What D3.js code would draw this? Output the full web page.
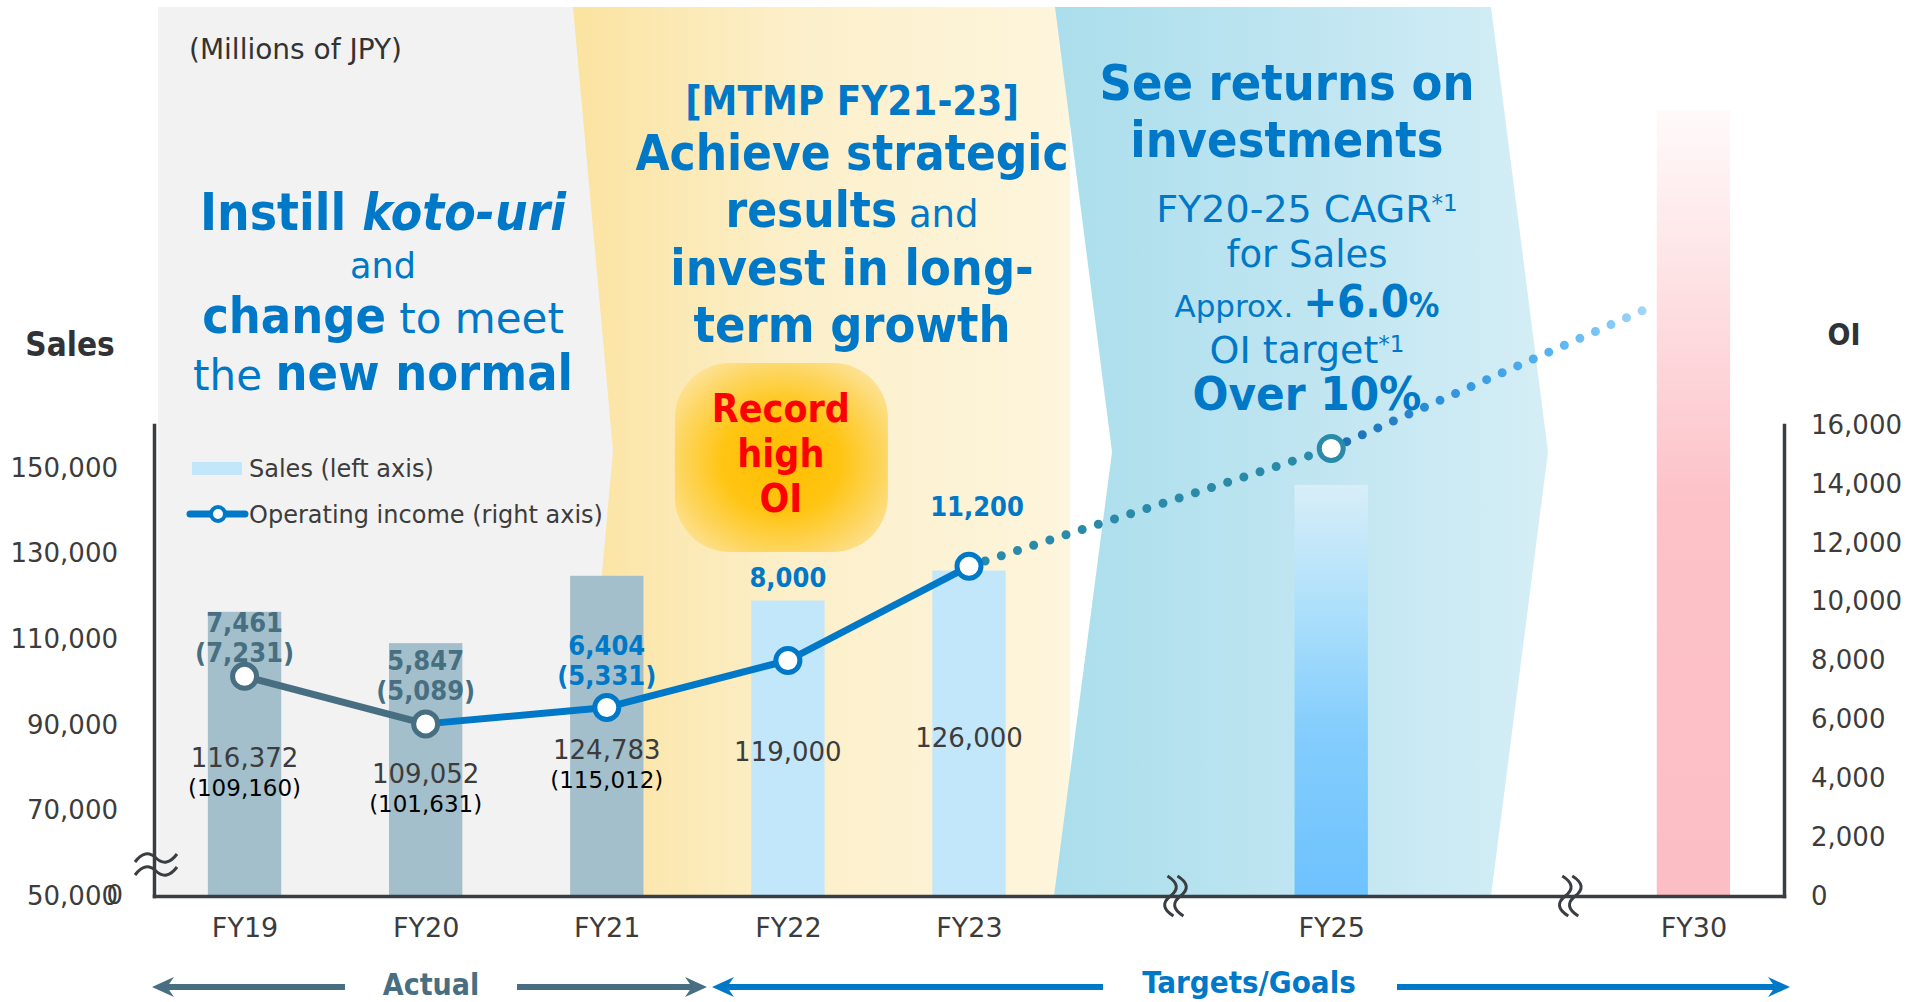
<!DOCTYPE html>
<html>
<head>
<meta charset="utf-8">
<script src="https://cdn.jsdelivr.net/npm/d3@7"></script>
<style>
  body { margin: 0; background: #fff; }
  svg { display: block; font-family: "DejaVu Sans", sans-serif; }
  .b { font-family: "DejaVu Sans Condensed", "DejaVu Sans", sans-serif; font-weight: bold; font-stretch: condensed; }
</style>
</head>
<body>
<div id="chart"></div>
<script>
// ---- data (millions of JPY) ----
const slots = ["FY19", "FY20", "FY21", "FY22", "FY23", "gap1", "FY25", "gap2", "FY30"];
const years = ["FY19", "FY20", "FY21", "FY22", "FY23", "FY25", "FY30"];
const sales = [116372, 109052, 124783, 119000, 126000, 146000, 233500];
const salesBefore = [109160, 101631, 115012, null, null, null, null];
const oiYears = ["FY19", "FY20", "FY21", "FY22", "FY23", "FY25"];
const oi = [7461, 5847, 6404, 8000, 11200, 15200];
const oiBefore = [7231, 5089, 5331, null, null, null];
const oiTrendEnd = 20100; // dotted goal line runs out at the FY30 bar
const leftTicks = [50000, 70000, 90000, 110000, 130000, 150000];
const rightTicks = [0, 2000, 4000, 6000, 8000, 10000, 12000, 14000, 16000];

const BLUE = "#0078c8", SLATE = "#476f81", TEAL = "#2a8aaa", AXIS = "#3a3e42", TXT = "#3c3c3c";
const W = 1916, H = 1002;
const X0 = 154, X1 = 1784, Y0 = 896, Y1 = 425;

const svg = d3.select("#chart").append("svg").attr("width", W).attr("height", H);
const defs = svg.append("defs");

function linGrad(id, x1, y1, x2, y2, stops) {
  const g = defs.append("linearGradient").attr("id", id)
    .attr("gradientUnits", "userSpaceOnUse")
    .attr("x1", x1).attr("y1", y1).attr("x2", x2).attr("y2", y2);
  stops.forEach(s => g.append("stop").attr("offset", s[0]).attr("stop-color", s[1]));
}

const x = d3.scalePoint().domain(slots).range([X0, X1]).padding(0.5);
const yL = d3.scaleLinear().domain([50000, 160000]).range([Y0, Y1]);
const yR = d3.scaleLinear().domain([0, 16000]).range([Y0, Y1]);
const bw = x.step() * 0.405;

// ---- phase panels ----
linGrad("gYellow", 573, 0, 1060, 0, [[0, "#fbe3a0"], [0.45, "#fcefca"], [1, "#fdf5dc"]]);
linGrad("gBlue", 1055, 0, 1548, 0, [[0, "#abdeec"], [0.5, "#bfe5f1"], [1, "#d5eef6"]]);

svg.append("rect").attr("x", 158).attr("y", 7).attr("width", 500).attr("height", Y0 - 7).attr("fill", "#f2f2f2");
svg.append("path").attr("fill", "url(#gYellow)")
  .attr("d", "M573,7H1070V896H573L613,451Z");
svg.append("path").attr("fill", "url(#gBlue)")
  .attr("d", "M1055,7H1491L1548,452L1491,896H1054L1112,452Z");

// ---- bars ----
linGrad("gFY25", 0, yL(sales[5]), 0, Y0, [[0, "#d8eef8"], [0.3, "#ade0fb"], [0.6, "#84cdfd"], [1, "#6ec2fd"]]);
linGrad("gFY30", 0, yL(sales[6]), 0, Y0, [[0, "#fffafa"], [0.5, "#fcc2c8"], [1, "#fcbec5"]]);
const barFill = ["#a3bfcb", "#a3bfcb", "#a3bfcb", "#c2e6fa", "#c2e6fa", "url(#gFY25)", "url(#gFY30)"];

svg.append("g").selectAll("rect").data(years).join("rect")
  .attr("x", d => x(d) - bw / 2)
  .attr("width", bw)
  .attr("y", (d, i) => yL(sales[i]))
  .attr("height", (d, i) => Y0 - yL(sales[i]))
  .attr("fill", (d, i) => barFill[i]);

// ---- axes ----
const axisL = svg.append("g").attr("transform", `translate(${X0},0)`)
  .call(d3.axisLeft(yL).tickValues(leftTicks).tickFormat(d3.format(",")).tickSize(0).tickSizeOuter(0).tickPadding(36));
const axisR = svg.append("g").attr("transform", `translate(${X1},0)`)
  .call(d3.axisRight(yR).tickValues(rightTicks).tickFormat(d3.format(",")).tickSize(0).tickSizeOuter(0).tickPadding(27));
const axisB = svg.append("g").attr("transform", `translate(0,${Y0})`)
  .call(d3.axisBottom(x).tickValues(years).tickSize(0).tickSizeOuter(0).tickPadding(22));

[axisL, axisR, axisB].forEach(a => {
  a.select(".domain").attr("stroke", AXIS).attr("stroke-width", 3.5).attr("stroke-linecap", "square");
  a.selectAll("text").attr("font-size", 26).attr("fill", TXT).attr("font-family", "DejaVu Sans");
});
axisB.selectAll("text").attr("font-size", 27);
// stray zero that overlaps the bottom left label
svg.append("text").attr("x", 123).attr("y", Y0).attr("dy", "0.32em").attr("text-anchor", "end")
  .attr("font-size", 26).attr("fill", TXT).text("0");

// break marks
const tilde = "M-21,4Q-10.5,-10 0,0Q10.5,10 21,-4";
[-7, 6].forEach(dy => svg.append("path").attr("d", tilde)
  .attr("transform", `translate(${X0 + 2},${865 + dy})`)
  .attr("fill", "none").attr("stroke", AXIS).attr("stroke-width", 3));
const sBreak = "M-3,-20Q13,-10 0,0Q-13,10 3,20";
[x("gap1") + x.step() * 0.14, x("gap2") + x.step() * 0.32].forEach(bx => {
  [-5, 5].forEach(dx => svg.append("path").attr("d", sBreak)
    .attr("transform", `translate(${bx + dx},${Y0})`)
    .attr("fill", "none").attr("stroke", AXIS).attr("stroke-width", 3));
});

// ---- headings ----
function line(cx, cy, parts, fill) {
  const t = svg.append("text").attr("x", cx).attr("y", cy)
    .attr("text-anchor", "middle").attr("fill", fill || BLUE);
  parts.forEach(p => {
    const s = t.append("tspan").text(p.t).attr("font-size", p.s);
    if (p.b) s.attr("class", "b");
    if (p.i) s.attr("font-style", "italic");
    if (p.up) s.attr("dy", -p.up);
  });
  return t;
}

svg.append("text").attr("x", 189).attr("y", 59).attr("font-size", 28).attr("fill", "#333")
  .text("(Millions of JPY)");

line(383, 230, [{ t: "Instill ", s: 51, b: 1 }, { t: "koto-uri", s: 51, b: 1, i: 1 }]);
line(383, 278, [{ t: "and", s: 35 }]);
line(383, 333, [{ t: "change", s: 50, b: 1 }, { t: " to meet", s: 42 }]);
line(383, 390, [{ t: "the ", s: 42 }, { t: "new normal", s: 50, b: 1 }]);

line(852, 115, [{ t: "[MTMP FY21-23]", s: 40, b: 1 }]);
line(852, 170, [{ t: "Achieve strategic", s: 49, b: 1 }]);
line(852, 227, [{ t: "results", s: 49, b: 1 }, { t: " and", s: 37 }]);
line(852, 285, [{ t: "invest in long-", s: 50, b: 1 }]);
line(852, 342, [{ t: "term growth", s: 50, b: 1 }]);

line(1287, 100, [{ t: "See returns on", s: 50, b: 1 }]);
line(1287, 157, [{ t: "investments", s: 50, b: 1 }]);
line(1307, 222, [{ t: "FY20-25 CAGR", s: 38 }, { t: "*1", s: 23, up: 11 }]);
line(1307, 267, [{ t: "for Sales", s: 37 }]);
line(1307, 317, [{ t: "Approx. ", s: 31 }, { t: "+6.0", s: 45, b: 1 }, { t: "%", s: 34, b: 1 }]);
line(1307, 363, [{ t: "OI target", s: 38 }, { t: "*1", s: 23, up: 11 }]);
line(1307, 410, [{ t: "Over 10%", s: 47, b: 1 }]);

// axis titles
svg.append("text").attr("class", "b").attr("x", 70).attr("y", 356).attr("text-anchor", "middle")
  .attr("font-size", 33).attr("fill", "#2f3337").text("Sales");
svg.append("text").attr("class", "b").attr("x", 1844).attr("y", 345).attr("text-anchor", "middle")
  .attr("font-size", 30).attr("fill", "#2f3337").text("OI");

// ---- record high badge ----
const rg = defs.append("radialGradient").attr("id", "gRec").attr("cx", "50%").attr("cy", "52%").attr("r", "62%");
[[0, "#ffbd00"], [0.45, "#ffc513"], [0.8, "#fdd766"], [1, "#fde39a"]]
  .forEach(s => rg.append("stop").attr("offset", s[0]).attr("stop-color", s[1]));
const recX = x("FY22") - 7;
svg.append("rect").attr("x", recX - 106).attr("y", 363).attr("width", 213).attr("height", 189)
  .attr("rx", 55).attr("fill", "url(#gRec)");
["Record", "high", "OI"].forEach((t, i) =>
  svg.append("text").attr("class", "b").attr("x", recX).attr("y", 422 + i * 45)
    .attr("text-anchor", "middle").attr("font-size", 39).attr("fill", "#ff0000").text(t));

// ---- legend ----
svg.append("rect").attr("x", 192).attr("y", 462).attr("width", 50).attr("height", 13).attr("fill", "#c2e6fa");
svg.append("text").attr("x", 249).attr("y", 477).attr("font-size", 24).attr("fill", TXT).text("Sales (left axis)");
svg.append("line").attr("x1", 190).attr("x2", 245).attr("y1", 514).attr("y2", 514)
  .attr("stroke", BLUE).attr("stroke-width", 7).attr("stroke-linecap", "round");
svg.append("circle").attr("cx", 218).attr("cy", 514).attr("r", 7).attr("fill", "#fff")
  .attr("stroke", BLUE).attr("stroke-width", 4);
svg.append("text").attr("x", 249).attr("y", 523).attr("font-size", 24).attr("fill", TXT)
  .text("Operating income (right axis)");

// ---- operating income line ----
const pts = oiYears.map((d, i) => [x(d), yR(oi[i])]);
const endPt = [x("FY30") - bw / 2, yR(oiTrendEnd)];
const ln = d3.line();

svg.append("path").attr("d", ln([pts[4], pts[5]])).attr("fill", "none")
  .attr("stroke", TEAL).attr("stroke-width", 9).attr("stroke-linecap", "round").attr("stroke-dasharray", "0 17");
linGrad("gTrend", pts[5][0], 0, endPt[0], 0, [[0, "#1a6bae"], [0.35, "#2f92dc"], [0.7, "#5ab7f2"], [1, "#acdaf8"]]);
svg.append("path").attr("d", ln([pts[5], endPt])).attr("fill", "none")
  .attr("stroke", "url(#gTrend)").attr("stroke-width", 9).attr("stroke-linecap", "round").attr("stroke-dasharray", "0 17");

svg.append("path").attr("d", ln(pts.slice(0, 2))).attr("fill", "none")
  .attr("stroke", SLATE).attr("stroke-width", 7);
svg.append("path").attr("d", ln(pts.slice(1, 5))).attr("fill", "none")
  .attr("stroke", BLUE).attr("stroke-width", 7).attr("stroke-linejoin", "round");

const markerColor = [SLATE, SLATE, BLUE, BLUE, BLUE, TEAL];
svg.append("g").selectAll("circle").data(pts).join("circle")
  .attr("cx", d => d[0]).attr("cy", d => d[1]).attr("r", 12)
  .attr("fill", "#fff").attr("stroke", (d, i) => markerColor[i]).attr("stroke-width", 5);

// ---- value labels ----
const oiLift = [44, 54, 52, 74, 50];
const labelColor = [SLATE, SLATE, BLUE, BLUE, BLUE];
const fmt = d3.format(",");
oi.slice(0, 5).forEach((v, i) => {
  const cx = x(oiYears[i]), top = yR(v) - oiLift[i];
  svg.append("text").attr("class", "b").attr("x", cx + (i === 4 ? 8 : 0)).attr("y", top)
    .attr("text-anchor", "middle").attr("font-size", 27).attr("fill", labelColor[i]).text(fmt(v));
  if (oiBefore[i] != null)
    svg.append("text").attr("class", "b").attr("x", cx).attr("y", top + 30)
      .attr("text-anchor", "middle").attr("font-size", 27).attr("fill", labelColor[i]).text(`(${fmt(oiBefore[i])})`);
});

const salesLabelY = [767, 783, 759, 761, 747];
sales.slice(0, 5).forEach((v, i) => {
  const cx = x(years[i]);
  svg.append("text").attr("x", cx).attr("y", salesLabelY[i]).attr("text-anchor", "middle")
    .attr("font-size", 26).attr("fill", TXT).text(fmt(v));
  if (salesBefore[i] != null)
    svg.append("text").attr("x", cx).attr("y", salesLabelY[i] + 29).attr("text-anchor", "middle")
      .attr("font-size", 23).attr("fill", "#000").text(`(${fmt(salesBefore[i])})`);
});

// ---- period arrows ----
const AY = 987;
function arrow(xFrom, xTip, color) {
  const dir = Math.sign(xTip - xFrom);
  svg.append("line").attr("x1", xFrom).attr("x2", xTip - dir * 10).attr("y1", AY).attr("y2", AY)
    .attr("stroke", color).attr("stroke-width", 6);
  svg.append("path").attr("fill", color)
    .attr("d", `M${xTip},${AY}L${xTip - dir * 22},${AY - 10}L${xTip - dir * 15},${AY}L${xTip - dir * 22},${AY + 10}Z`);
}
arrow(345, 152, SLATE);
arrow(517, 707, SLATE);
arrow(1103, 712, BLUE);
arrow(1397, 1790, BLUE);
svg.append("text").attr("class", "b").attr("x", 431).attr("y", 995).attr("text-anchor", "middle")
  .attr("font-size", 30).attr("fill", SLATE).text("Actual");
svg.append("text").attr("class", "b").attr("x", 1249).attr("y", 993).attr("text-anchor", "middle")
  .attr("font-size", 31).attr("fill", BLUE).text("Targets/Goals");
</script>
</body>
</html>
